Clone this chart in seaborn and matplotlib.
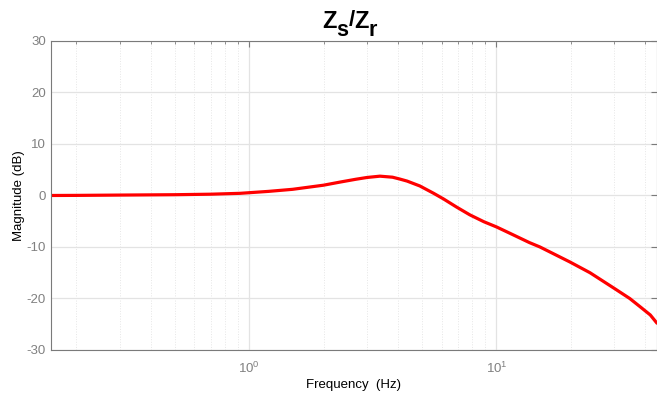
import matplotlib
matplotlib.use('Agg')
import matplotlib.pyplot as plt
import matplotlib.ticker as mticker
import numpy as np
import pandas as pd
import seaborn as sns

# okunan noktalar (Hz, dB)
frekans = [0.158, 0.2, 0.3, 0.5, 0.7, 0.92, 1.2, 1.5, 2.0, 2.33, 2.7, 3.0,
           3.38, 3.8, 4.06, 4.35, 4.9, 5.56, 6.1, 6.9, 7.8, 8.9, 10.0, 11.35,
           13.6, 15.0, 19.8, 23.9, 30.1, 34.6, 38.1, 41.9, 44.6]
genlik = [0.0, 0.02, 0.08, 0.15, 0.25, 0.42, 0.8, 1.2, 2.0, 2.6, 3.15, 3.5,
          3.75, 3.55, 3.2, 2.8, 1.85, 0.45, -0.65, -2.25, -3.75, -5.1, -6.1, -7.35,
          -9.15, -10.0, -12.9, -15.0, -18.1, -20.0, -21.6, -23.2, -24.8]
y_ticks = [-30, -20, -10, 0, 10, 20, 30]

sns.set_style('white')
plt.rcParams['font.family'] = ['Liberation Sans', 'DejaVu Sans']
plt.rcParams['axes.unicode_minus'] = False

df = pd.DataFrame({'f': frekans, 'mag': genlik})

fig = plt.figure(figsize=(6.57, 3.96), dpi=100)
ax = fig.add_axes([0.0776, 0.1162, 0.9224, 0.7803])
sns.lineplot(data=df, x='f', y='mag', ax=ax, color='#ff0000', linewidth=2.3, sort=False)

ax.set_xscale('log')
ax.set_xlim(0.158, 44.6)
ax.set_ylim(-30, 30)
ax.set_yticks(y_ticks)
ax.xaxis.set_major_locator(mticker.LogLocator(base=10))
ax.xaxis.set_minor_locator(mticker.LogLocator(base=10, subs=np.arange(2, 10)))
ax.xaxis.set_minor_formatter(mticker.NullFormatter())

ax.grid(True, which='major', color='#e3e3e3', linewidth=0.9, linestyle='-')
ax.grid(True, which='minor', axis='x', color='#e6e6e6', linewidth=0.7, linestyle=':')
ax.set_axisbelow(True)

for s in ax.spines.values():
    s.set_color('#7a7a7a')
    s.set_linewidth(0.8)
ax.tick_params(which='both', direction='in', top=True, right=True,
               colors='#7a7a7a', labelcolor='#808080', labelsize=9.5)
ax.tick_params(which='major', length=4)
ax.tick_params(which='minor', length=2.5)
ax.tick_params(axis='x', which='major', pad=8)

ax.set_xlabel('Frequency  (Hz)', fontsize=9.5, color='black', labelpad=2)
ax.set_ylabel('Magnitude (dB)', fontsize=9.5, color='black', labelpad=1)

# baslik: Z_s/Z_r (alt indisler buyuk, matlab tarzi)
baslik = dict(weight='bold', color='black')
t = fig.text(0.490, 0.930, 'Z', fontsize=17, va='baseline', ha='left', **baslik)
parcalar = [('s', 15.5, -6), ('/', 16, 7), ('Z', 17, -1), ('r', 15.5, -6)]
for metin, boyut, dy in parcalar:
    t = ax.annotate(metin, xy=(1, 0), xycoords=t, xytext=(0, dy),
                    textcoords='offset points', fontsize=boyut,
                    va='bottom', ha='left', **baslik)

fig.savefig('out.png', dpi=100)
